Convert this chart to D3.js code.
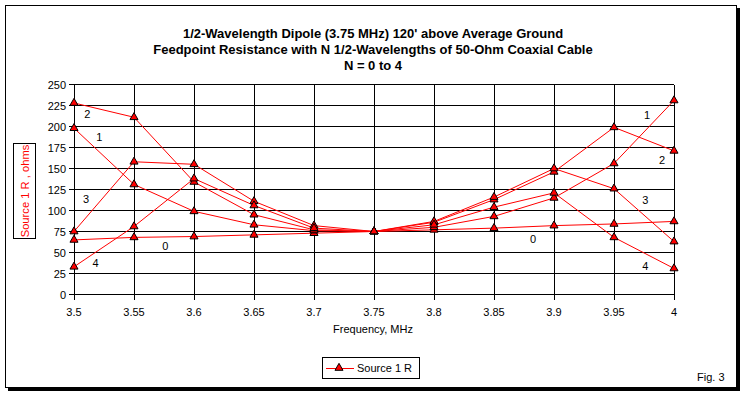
<!DOCTYPE html>
<html>
<head>
<meta charset="utf-8">
<script src="https://cdn.jsdelivr.net/npm/d3@7"></script>
<style>
  body { margin: 0; background: #fff; }
  svg { display: block; font-family: "Liberation Sans", Arial, sans-serif; }
</style>
</head>
<body>
<main></main>
<script>
const W = 744, H = 396;

// Frequencies (MHz) and feedpoint resistance for N = 0..4 half-wavelengths
const freqs = [3.5, 3.55, 3.6, 3.65, 3.7, 3.75, 3.8, 3.85, 3.9, 3.95, 4.0];
const r0 = [65, 68, 69, 71, 73, 75, 77, 79, 82, 84, 87];
const r1 = [198, 131, 99, 83, 76, 75, 80, 93, 115, 156, 231];
const r2 = [228, 211, 134, 95, 77, 75, 86, 113, 146, 199, 171];
const r3 = [75, 158, 155, 111, 82, 75, 87, 116, 150, 126, 63];
const r4 = [33, 81, 138, 106, 79, 75, 83, 104, 121, 68, 31];
const seriesNames = ["0", "1", "2", "3", "4"];
const xTicks = [3.5, 3.55, 3.6, 3.65, 3.7, 3.75, 3.8, 3.85, 3.9, 3.95, 4];
const yTicks = [0, 25, 50, 75, 100, 125, 150, 175, 200, 225, 250];

// where the curve numbers sit (data coordinates)
const curveLabels = [
  { t: "2", f: 3.511, r: 215 }, { t: "1", f: 3.521, r: 188 },
  { t: "3", f: 3.510, r: 114 }, { t: "4", f: 3.518, r: 38 },
  { t: "0", f: 3.576, r: 58 },
  { t: "1", f: 3.9775, r: 214 }, { t: "2", f: 3.99, r: 160 },
  { t: "3", f: 3.976, r: 113 }, { t: "0", f: 3.8825, r: 66 },
  { t: "4", f: 3.976, r: 34 }
];

const series = [r0, r1, r2, r3, r4].map((vals, i) => ({
  name: seriesNames[i],
  points: vals.map((v, j) => ({ f: freqs[j], r: v }))
}));

const x = d3.scaleLinear().domain([3.5, 4]).range([74, 674]);
const y = d3.scaleLinear().domain([0, 250]).range([294.5, 84.5]);

const svg = d3.create("svg").attr("width", W).attr("height", H);

// outer frame with drop shadow
svg.append("rect").attr("x", 8).attr("y", 8).attr("width", 732).attr("height", 383).attr("fill", "#000");
svg.append("rect").attr("x", 5.5).attr("y", 5.5).attr("width", 731).attr("height", 382)
  .attr("fill", "#fff").attr("stroke", "#000");

// title
const title = svg.append("text").attr("text-anchor", "middle").attr("font-weight", "bold")
  .attr("font-size", 13).attr("fill", "#000");
["1/2-Wavelength Dipole (3.75 MHz) 120' above Average Ground",
 "Feedpoint Resistance with N 1/2-Wavelengths of 50-Ohm Coaxial Cable",
 "N = 0 to 4"].forEach((s, i) => {
  title.append("tspan").attr("x", 373).attr("y", 38 + i * 16).text(s);
});

// grid
const grid = svg.append("g").attr("stroke", "#000").attr("stroke-width", 1).attr("shape-rendering", "crispEdges");
grid.selectAll(".h").data(yTicks).join("line")
  .attr("x1", x(3.5) - 5).attr("x2", x(4)).attr("y1", d => y(d)).attr("y2", d => y(d));
grid.selectAll(".v").data(xTicks).join("line")
  .attr("x1", d => x(d)).attr("x2", d => x(d)).attr("y1", y(250)).attr("y2", y(0) + 5);

// tick labels
svg.append("g").attr("font-size", 11).attr("text-anchor", "end")
  .selectAll("text").data(yTicks).join("text")
  .attr("x", 66).attr("y", d => y(d) + 4).text(d => d);
svg.append("g").attr("font-size", 11).attr("text-anchor", "middle")
  .selectAll("text").data(xTicks).join("text")
  .attr("x", d => x(d)).attr("y", 316).text(d => d);

svg.append("text").attr("x", 373).attr("y", 333).attr("text-anchor", "middle")
  .attr("font-size", 11).text("Frequency, MHz");

// y axis title in a box
svg.append("rect").attr("x", 13.5).attr("y", 143.5).attr("width", 22).attr("height", 95)
  .attr("fill", "#fff").attr("stroke", "#000");
svg.append("text").attr("transform", "translate(28.5,191) rotate(-90)")
  .attr("text-anchor", "middle").attr("font-size", 11.2).attr("fill", "#f00")
  .text("Source 1 R , ohms");

// lines
const line = d3.line().x(d => x(d.f)).y(d => y(d.r));
svg.append("g").selectAll("path").data(series).join("path")
  .attr("d", d => line(d.points)).attr("fill", "none").attr("stroke", "#f00").attr("stroke-width", 1);

// markers
const tri = d3.symbol().type(d3.symbolTriangle).size(28);
svg.append("g").selectAll("g").data(series).join("g")
  .selectAll("path").data(d => d.points).join("path")
  .attr("transform", d => `translate(${x(d.f)},${y(d.r)})`)
  .attr("d", tri).attr("fill", "#f00").attr("stroke", "#000").attr("stroke-width", 1);

// curve numbers
svg.append("g").attr("font-size", 11).attr("text-anchor", "middle")
  .selectAll("text").data(curveLabels).join("text")
  .attr("x", d => x(d.f)).attr("y", d => y(d.r) + 4).text(d => d.t);

// legend
svg.append("rect").attr("x", 322.5).attr("y", 357.5).attr("width", 97).attr("height", 21)
  .attr("fill", "#fff").attr("stroke", "#000");
svg.append("line").attr("x1", 326).attr("x2", 354).attr("y1", 368.5).attr("y2", 368.5).attr("stroke", "#f00");
svg.append("path").attr("transform", "translate(339,368)").attr("d", tri)
  .attr("fill", "#f00").attr("stroke", "#000");
svg.append("text").attr("x", 357).attr("y", 372).attr("font-size", 11).text("Source 1 R");

svg.append("text").attr("x", 697).attr("y", 381).attr("font-size", 11).text("Fig. 3");

document.querySelector("main").append(svg.node());
</script>
</body>
</html>
